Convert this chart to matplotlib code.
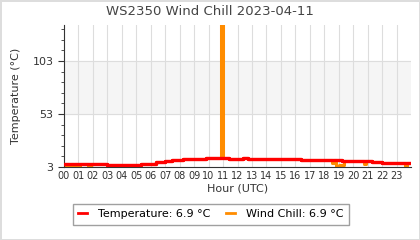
import matplotlib.pyplot as plt
import numpy as np

# hours (UTC) where the reading changes, and the readings
temp_hours = [0.0, 3.0, 5.35, 6.4, 7.0, 7.5, 8.2, 8.6, 9.8, 11.4, 12.4, 12.7,
              16.4, 19.2, 20.0, 21.3, 22.0, 24.0]
temp_values = [5.8, 4.9, 6.1, 7.4, 8.7, 9.6, 10.2, 10.8, 11.8, 10.5, 11.5, 10.9,
               9.6, 9.0, 8.3, 7.4, 6.9, 6.9]

chill_hours = [0.0, 0.15, 0.3, 0.5, 0.65, 0.8, 1.0, 1.15, 1.3, 1.7, 1.85, 3.0,
               5.35, 6.4, 7.0, 7.5, 8.2, 8.6, 9.8, 10.88, 10.98, 11.4, 12.4, 12.7,
               16.4, 18.5, 18.65, 18.8, 19.0, 19.2, 19.35, 20.0, 20.75, 20.85,
               21.3, 22.0, 23.6, 23.7, 24.0]
chill_values = [3.8, 5.8, 4.2, 5.8, 3.6, 5.8, 4.0, 5.8, 5.8, 3.4, 5.8, 4.9,
                6.1, 7.4, 8.7, 9.6, 10.2, 10.8, 11.8, 400.0, 11.8, 10.5, 11.5, 10.9,
                9.6, 6.5, 9.6, 3.3, 5.0, 4.5, 9.0, 8.3, 5.5, 8.3,
                7.4, 6.9, 4.0, 6.9, 6.9]

hour_labels = ["%02d" % h for h in range(24)]

fig = plt.figure(figsize=(4.2, 2.4), dpi=100)
fig.patch.set_edgecolor("#dddddd")
fig.patch.set_linewidth(2)
ax = fig.add_axes([0.152, 0.304, 0.827, 0.592])

ax.axhspan(53, 103, color="#f5f5f5", zorder=0)
for y in (53, 103):
    ax.axhline(y, color="#dddddd", lw=0.8, zorder=0)
for h in range(24):
    ax.axvline(h, color="#dddddd", lw=0.8, zorder=0)

ax.plot(chill_hours, chill_values, color="#ff8c00", lw=2.2,
        drawstyle="steps-post", label="Wind Chill: 6.9 °C", zorder=2)
ax.plot(temp_hours, temp_values, color="#ff0000", lw=2.4,
        drawstyle="steps-post", label="Temperature: 6.9 °C", zorder=3)

ax.set_xlim(0, 24)
ax.set_ylim(3, 137)
ax.set_xticks(range(24))
ax.set_xticklabels(hour_labels)
ax.set_yticks([3, 53, 103])
ax.set_yticks(np.arange(13, 137, 10), minor=True)
ax.tick_params(axis="x", length=0, labelsize=7, colors="#333333", pad=3)
ax.tick_params(axis="y", labelsize=8, colors="#333333", length=4)
ax.tick_params(axis="y", which="minor", length=2.5, color="#333333")
for s in ("top", "right"):
    ax.spines[s].set_visible(False)
for s in ("left", "bottom"):
    ax.spines[s].set_color("#333333")

ax.set_xlabel("Hour (UTC)", fontsize=8, color="#333333", labelpad=2)
ax.set_ylabel("Temperature (°C)", fontsize=8, color="#333333", labelpad=8)
ax.set_title("WS2350 Wind Chill 2023-04-11", fontsize=9.5, color="#444444", pad=7)
ax.title.set_position((0.42, 1))

h, l = ax.get_legend_handles_labels()
leg = fig.legend(h[::-1], l[::-1], loc="center", bbox_to_anchor=(0.502, 0.108),
                 ncol=2, fontsize=8, frameon=True, fancybox=False,
                 handlelength=0.8, handletextpad=1.0, columnspacing=1.4,
                 borderpad=0.5)
leg.get_frame().set_edgecolor("#888888")
for line in leg.get_lines():
    line.set_linewidth(2)

fig.savefig("out.png", dpi=100, edgecolor=fig.get_edgecolor())
